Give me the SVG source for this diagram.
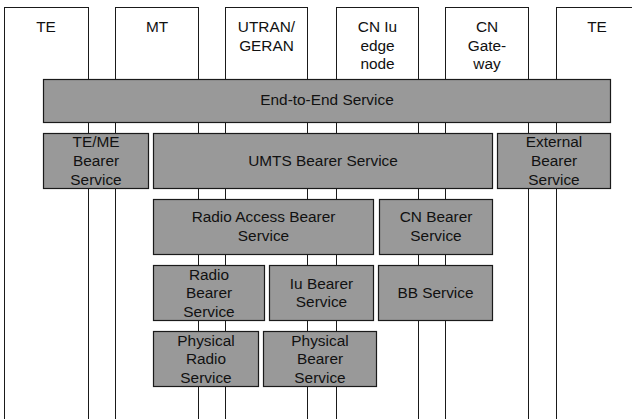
<svg xmlns="http://www.w3.org/2000/svg" width="632" height="419" viewBox="0 0 632 419">
<style>
.col{fill:#ffffff;stroke:#1a1a1a;stroke-width:1}
.box{fill:#999999;stroke:#1a1a1a;stroke-width:1.2}
text{font-family:"Liberation Sans",Arial,sans-serif;font-size:15.4px;fill:#111111;text-anchor:middle}
</style>
<rect x="0" y="0" width="632" height="419" fill="#ffffff"/>
<g id="col-te1"><rect class="col" x="4.5" y="7.5" width="84" height="430"/><text x="46" y="32">TE</text></g>
<g id="col-mt"><rect class="col" x="115.5" y="7.5" width="83" height="430"/><text x="157" y="32">MT</text></g>
<g id="col-utran"><rect class="col" x="225.5" y="7.5" width="82" height="430"/><text x="266.5" y="32">UTRAN/</text><text x="266.5" y="50.5">GERAN</text></g>
<g id="col-cn-iu"><rect class="col" x="336.5" y="7.5" width="82" height="430"/><text x="377.5" y="32">CN Iu</text><text x="377.5" y="50.5">edge</text><text x="377.5" y="69">node</text></g>
<g id="col-cn-gw"><rect class="col" x="445.5" y="7.5" width="83" height="430"/><text x="487" y="32">CN</text><text x="487" y="50.5">Gate-</text><text x="487" y="69">way</text></g>
<g id="col-te2"><rect class="col" x="556.5" y="7.5" width="83" height="430"/><text x="597" y="32">TE</text></g>
<g id="connectors"></g>
<g id="e2e"><rect class="box" x="43.5" y="79.5" width="567" height="43"/><text x="327" y="104.5">End-to-End Service</text></g>
<g id="teme"><rect class="box" x="43.5" y="133.5" width="105" height="55"/><text x="96" y="147">TE/ME</text><text x="96" y="166">Bearer</text><text x="96" y="185">Service</text></g>
<g id="umts"><rect class="box" x="153.5" y="133.5" width="339" height="55"/><text x="323" y="166">UMTS Bearer Service</text></g>
<g id="external"><rect class="box" x="497.5" y="133.5" width="113" height="55"/><text x="554" y="147">External</text><text x="554" y="166">Bearer</text><text x="554" y="185">Service</text></g>
<g id="rab"><rect class="box" x="153.5" y="199.5" width="220" height="55"/><text x="263.5" y="222">Radio Access Bearer</text><text x="263.5" y="241">Service</text></g>
<g id="cnb"><rect class="box" x="379.5" y="199.5" width="113" height="55"/><text x="436" y="222">CN Bearer</text><text x="436" y="241">Service</text></g>
<g id="rb"><rect class="box" x="153.5" y="265.5" width="111" height="55"/><text x="209" y="279.5">Radio</text><text x="209" y="298">Bearer</text><text x="209" y="317">Service</text></g>
<g id="iub"><rect class="box" x="269.5" y="265.5" width="104" height="55"/><text x="321.5" y="288.5">Iu Bearer</text><text x="321.5" y="307">Service</text></g>
<g id="bb"><rect class="box" x="378.5" y="265.5" width="114" height="55"/><text x="435.5" y="298">BB Service</text></g>
<g id="prs"><rect class="box" x="153.5" y="331.5" width="105" height="55"/><text x="206" y="345.5">Physical</text><text x="206" y="364">Radio</text><text x="206" y="383">Service</text></g>
<g id="pbs"><rect class="box" x="263.5" y="331.5" width="113" height="55"/><text x="320" y="345.5">Physical</text><text x="320" y="364">Bearer</text><text x="320" y="383">Service</text></g>
</svg>
